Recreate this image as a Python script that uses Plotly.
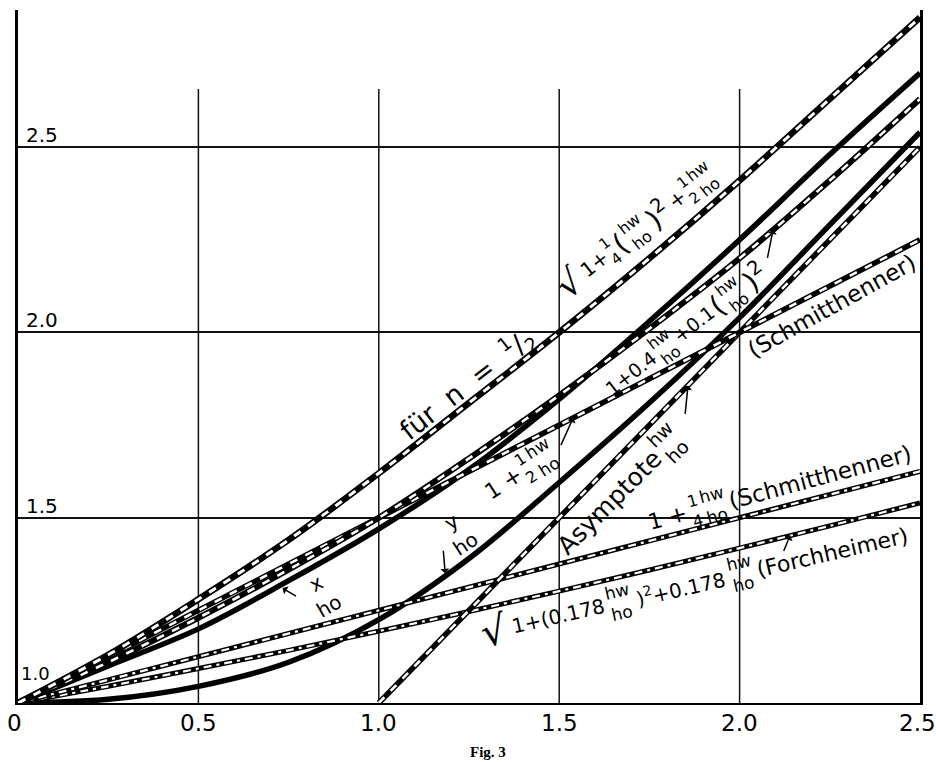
import math
import re
import plotly.graph_objects as go

# ---------------- data ----------------
X_TICKS = [0, 0.5, 1.0, 1.5, 2.0, 2.5]
X_TICK_TEXT = ["0", "0.5", "1.0", "1.5", "2.0", "2.5"]
Y_TICKS = [1.0, 1.5, 2.0, 2.5]
Y_TICK_TEXT = ["1.0", "1.5", "2.0", "2.5"]
V_GRID = [0.5, 1.0, 1.5, 2.0]
GRID_TOP = 2.657

hw_ho = [0, 0.25, 0.5, 0.75, 1.0, 1.25, 1.5, 1.75, 2.0, 2.25, 2.5]
n_half = [1.00, 1.13, 1.28, 1.44, 1.62, 1.81, 2.00, 2.20, 2.41, 2.63, 2.85]
x_ho = [1.00, 1.10, 1.20, 1.33, 1.47, 1.63, 1.82, 2.03, 2.25, 2.48, 2.70]
quad_04_01 = [1.00, 1.11, 1.23, 1.36, 1.50, 1.66, 1.83, 2.01, 2.20, 2.41, 2.63]
y_ho = [1.00, 1.01, 1.045, 1.11, 1.225, 1.39, 1.595, 1.81, 2.04, 2.29, 2.54]
forchheimer = [1.00, 1.045, 1.093, 1.142, 1.194, 1.247, 1.302, 1.359, 1.418, 1.478, 1.54]

lin_x = [0, 2.5]
schmitt_half = [1.0, 2.25]
schmitt_quarter = [1.0, 1.625]
asym_x = [1.0, 2.5]
asym_y = [1.0, 2.5]

FONT = "DejaVu Sans"

fig = go.Figure()


def add_curve(x, y, width, dash=None, white_width=2.6):
    fig.add_trace(go.Scatter(
        x=x, y=y, mode="lines", hoverinfo="skip", showlegend=False,
        line=dict(color="black", width=width, shape="spline", smoothing=1.0)))
    if dash:
        fig.add_trace(go.Scatter(
            x=x, y=y, mode="lines", hoverinfo="skip", showlegend=False,
            line=dict(color="white", width=white_width, dash=dash,
                      shape="spline", smoothing=1.0)))


DASH = "8px,9px"
DASHDOT = "8px,5px,3px,5px"

add_curve(hw_ho, y_ho, 5.5)
add_curve(hw_ho, x_ho, 5.5)
add_curve(hw_ho, forchheimer, 5, DASHDOT, 2.2)
add_curve(lin_x, schmitt_quarter, 5, DASHDOT, 2.2)
add_curve(asym_x, asym_y, 5.5, DASH)
add_curve(lin_x, schmitt_half, 5.5, DASH)
add_curve(hw_ho, quad_04_01, 6, DASH)
add_curve(hw_ho, n_half, 6.5, DASH, 3)

# vertical grid lines (stop below the top of the frame)
for gx in V_GRID:
    fig.add_shape(type="line", xref="x", yref="y", x0=gx, x1=gx, y0=1.0, y1=GRID_TOP,
                  line=dict(color="#111", width=1.5), layer="below")

# ---------------- tick labels ----------------
for v, t in zip(X_TICKS, X_TICK_TEXT):
    shift = -4 if v == X_TICKS[0] else (-3 if v == X_TICKS[-1] else 0)
    fig.add_annotation(x=v, y=0, xref="x", yref="paper", yshift=-20, text=t,
                       showarrow=False, xanchor="center", yanchor="middle", xshift=shift,
                       font=dict(family=FONT, size=23, color="black"))
for v, t in zip(Y_TICKS, Y_TICK_TEXT):
    low = v == Y_TICKS[0]
    fig.add_annotation(x=0, y=v, xref="paper", yref="y", text=t, showarrow=False,
                       xanchor="left", yanchor="bottom",
                       xshift=1 if low else 6, yshift=17 if low else -2,
                       font=dict(family=FONT, size=18 if low else 20, color="black"))

# ---------------- labels ----------------
CW = {"0": .636, "1": .636, "2": .636, "3": .636, "4": .636, "5": .636, "6": .636,
      "7": .636, "8": .636, "9": .636, ".": .318, " ": .318, "(": .39, ")": .39,
      "+": .838, "=": .838, "/": .337, "a": .613, "b": .635, "c": .55, "d": .635,
      "e": .615, "f": .352, "h": .634, "i": .278, "k": .579, "m": .974, "n": .634,
      "o": .612, "p": .635, "r": .411, "s": .521, "t": .392, "u": .634, "w": .818,
      "x": .592, "y": .592, "ü": .634, "A": .684, "F": .575, "S": .635, "√": .84}


def text_width(t, size):
    best = 0
    for line in t.split("<br>"):
        plain = re.sub(r"<[^>]+>", "", line)
        best = max(best, sum(CW.get(ch, 0.6) for ch in plain) * size)
    return best


def add_label(x, y, angle, pieces, gap=3):
    widths = [text_width(t, s) for t, s in pieces]
    total = sum(widths) + gap * (len(pieces) - 1)
    pos = -total / 2
    th = math.radians(angle)
    for (t, s), w in zip(pieces, widths):
        c = pos + w / 2
        fig.add_annotation(x=x, y=y, xref="x", yref="y", text=t, showarrow=False,
                           textangle=-angle, xshift=c * math.cos(th), yshift=c * math.sin(th),
                           xanchor="center", yanchor="middle",
                           font=dict(family=FONT, size=s, color="black"))
        pos += w + gap


HW = "hw<br>ho"
add_label(1.245, 1.862, 38, [("für  n  =  <sup>1</sup>/<sub>2</sub>", 27)])
add_label(1.71, 2.27, 38, [("√", 36), ("1+", 20), ("1<br>4", 15), ("(", 28), (HW, 16),
                           (")<sup>2</sup>", 28), ("+", 20), ("1<br>2", 15), (HW, 16)], gap=2)
add_label(1.855, 2.008, 38, [("1+0.4", 19), (HW, 16), ("+0.1", 19), ("(", 28), (HW, 16),
                             (")<sup>2</sup>", 28)], gap=2)
add_label(2.256, 2.07, 29, [("(Schmitthenner)", 23)])
add_label(1.392, 1.622, 33, [("1 +", 22), ("1<br>2", 16), (HW, 17)])
add_label(1.220, 1.459, 33, [("y<br>ho", 20)])
add_label(1.669, 1.570, 45, [("Asymptote", 25), (HW, 19)])
add_label(0.843, 1.292, 30, [("x<br>ho", 20)])
add_label(2.112, 1.581, 15, [("1 +", 22), ("1<br>4", 16), (HW, 17), ("(Schmitthenner)", 23)])
add_label(1.871, 1.319, 13, [("√", 40), ("1+(0.178", 20), (HW, 17), (")<sup>2</sup>+0.178", 20),
                             (HW, 17), ("(Forchheimer)", 22)])

# small hooked pointers from labels to curves
HOOKS = [(0.733, 1.31, 15, 9), (1.184, 1.35, -2, -24), (1.539, 1.77, -13, 29),
         (2.093, 2.278, -6, 30), (1.857, 1.857, -3, 30), (2.14, 1.452, -7, 17)]
for hx, hy, ax, ay in HOOKS:
    fig.add_annotation(x=hx, y=hy, xref="x", yref="y", text="", showarrow=True,
                       ax=ax, ay=ay, arrowhead=1, arrowsize=1, arrowwidth=1.5,
                       arrowcolor="black")

fig.add_annotation(x=1.302, y=0, xref="x", yref="paper", yshift=-49, text="<b>Fig. 3</b>",
                   showarrow=False, xanchor="center", yanchor="middle",
                   font=dict(family="Liberation Serif", size=15, color="black"))

fig.update_layout(
    width=936, height=762, margin=dict(l=18, r=16, t=10, b=59, autoexpand=False),
    paper_bgcolor="white", plot_bgcolor="white", showlegend=False,
    xaxis=dict(range=[0, 2.5], showticklabels=False, showgrid=False, automargin=False,
               zeroline=False, showline=True, linecolor="black", linewidth=2, ticks=""),
    yaxis=dict(range=[1.0, 2.87], tickvals=Y_TICKS, showticklabels=False, showgrid=True,
               automargin=False, gridcolor="#111", gridwidth=1.5, zeroline=False,
               showline=True, mirror=True, linecolor="black", linewidth=2.5, ticks=""),
)

fig.write_html("out.html", config={"displayModeBar": False},
               post_script="document.body.style.margin='0';document.body.style.overflow='hidden';")
